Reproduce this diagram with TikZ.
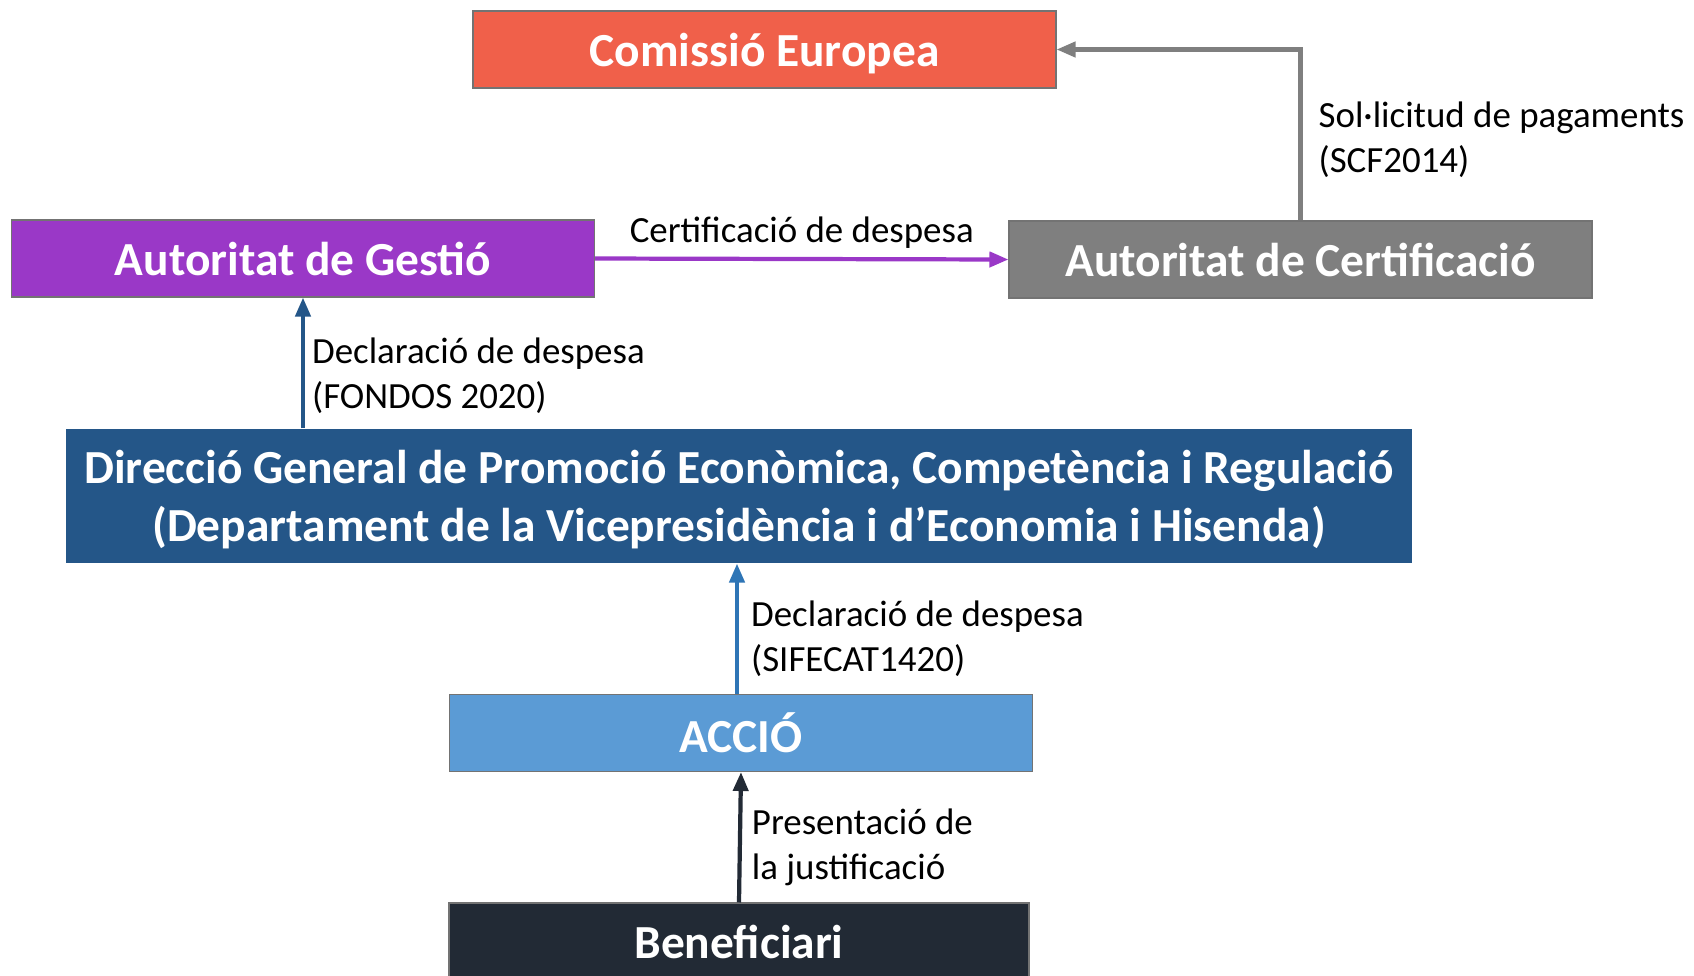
\documentclass[tikz,border=0pt]{standalone}
\usepackage{fontspec}
\setmainfont{Carlito}
\usepackage{xcolor}
\usepackage{tikz}
\usetikzlibrary{arrows.meta}
\usetikzlibrary{positioning}
\definecolor{comissio}{RGB}{240,96,74}
\definecolor{gestio}{RGB}{154,56,199}
\definecolor{certif}{RGB}{127,127,127}
\definecolor{direccio}{RGB}{36,86,136}
\definecolor{accio}{RGB}{91,155,213}
\definecolor{accioarr}{RGB}{46,117,182}
\definecolor{benef}{RGB}{34,42,53}

\begin{document}
\begin{tikzpicture}[
	box/.style={rectangle,draw=black!55,line width=0.6pt,minimum width=11.66cm,minimum height=1.54cm,
		text depth=0pt,text=white,font=\fontsize{27}{33}\selectfont\bfseries},
	lbl/.style={text=black,font=\fontsize{21}{25.6}\selectfont,align=left,inner sep=0pt},
	arr/.style={line width=2.4pt,-{Triangle[length=0.38cm,width=0.3cm]}}]
  \useasboundingbox (0,0) rectangle (33.88,-19.5);
  \node[box,fill=comissio] (com) at (15.29,-0.99) {Comissió Europea};
  \node[box,fill=gestio] (gest) at (6.06,-5.17) {Autoritat de Gestió};
  \node[box,fill=certif] (cert) at (26.01,-5.19) {Autoritat de Certificació};
  \node[box,fill=direccio,draw=none,minimum width=26.92cm,minimum height=2.68cm,align=center] (dir) at (14.78,-9.92)
    {Direcció General de Promoció Econòmica, Competència i Regulació\\(Departament de la Vicepresidència i d’Economia i Hisenda)};
  \node[box,fill=accio] (accio) at (14.82,-14.66) {ACCIÓ};
  \node[box,fill=benef,minimum width=11.6cm] (ben) at (14.78,-18.83) {Beneficiari};
  \draw[arr,certif] (cert.north) |- node[lbl,pos=0.236,right=0.32cm] {Sol·licitud de pagaments\\(SCF2014)} (com.east);
  \draw[arr,gestio] (gest.east) -- node[lbl,above=0.16cm] {Certificació de despesa} (cert.west);
  \draw[arr,direccio] (gest.south |- dir.north) -- node[lbl,pos=0.4,right=0.14cm] {Declaració de despesa\\(FONDOS 2020)} (gest.south);
  \draw[arr,accioarr] ([xshift=-0.08cm]accio.north) -- node[lbl,pos=0.42,right=0.24cm] {Declaració de despesa\\(SIFECAT1420)} ([xshift=-0.08cm]accio.north |- dir.south);
  \draw[arr,benef] (ben.north) -- node[lbl,pos=0.42,right=0.2cm] {Presentació de\\la justificació} (accio.south);
\end{tikzpicture}
\end{document}
